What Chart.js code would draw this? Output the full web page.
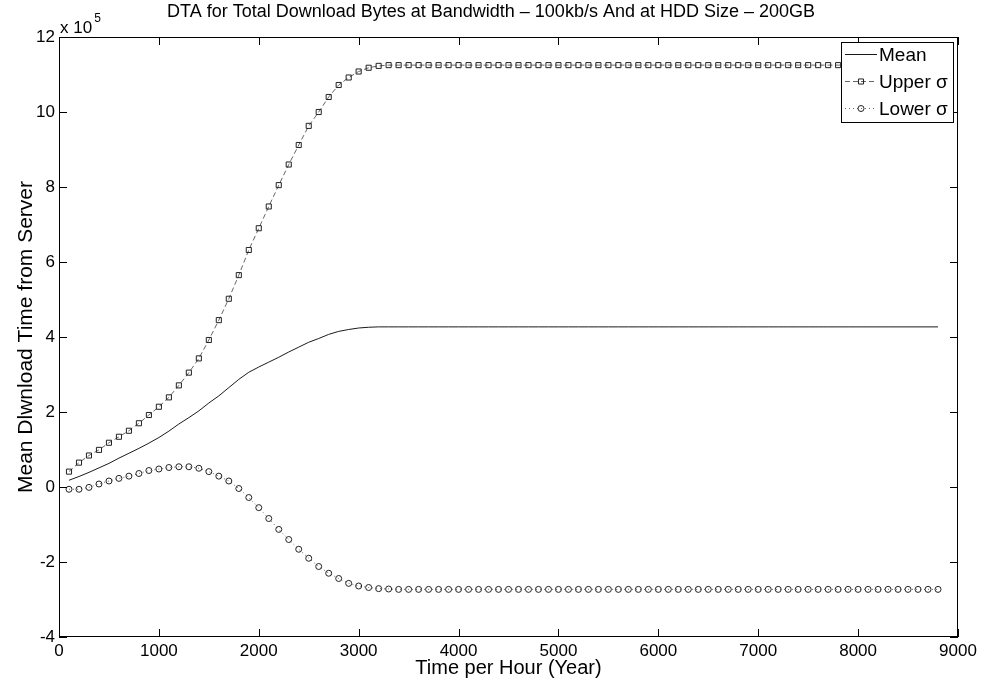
<!DOCTYPE html>
<html>
<head>
<meta charset="utf-8">
<script src="https://cdn.jsdelivr.net/npm/chart.js@4"></script>
<style>
html,body{margin:0;padding:0;background:#fff;}
#wrap{width:986px;height:686px;}
</style>
</head>
<body>
<div id="wrap"><canvas id="c" width="986" height="686"></canvas></div>
<script>
// ---------- DATA ----------
const hours = [
  100,200,300,400,500,600,700,800,900,1000,
  1100,1200,1300,1400,1500,1600,1700,1800,1900,2000,
  2100,2200,2300,2400,2500,2600,2700,2800,2900,3000,
  3100,3200,3300,3400,3500,3600,3700,3800,3900,4000,
  4100,4200,4300,4400,4500,4600,4700,4800,4900,5000,
  5100,5200,5300,5400,5500,5600,5700,5800,5900,6000,
  6100,6200,6300,6400,6500,6600,6700,6800,6900,7000,
  7100,7200,7300,7400,7500,7600,7700,7800,7900,8000,
  8100,8200,8300,8400,8500,8600,8700,8800
];
const meanVals = [
  18000,28000,39000,51000,63000,77000,90000,103000,117000,132000,
  149000,168000,185000,203000,224000,243000,265000,287000,306000,320000,
  333000,346000,360000,373000,386000,396000,407000,415000,420000,424000,
  426000,
  427000,427000,427000,427000,427000,427000,427000,427000,
  427000,427000,427000,427000,427000,427000,427000,427000,
  427000,427000,427000,427000,427000,427000,427000,427000,
  427000,427000,427000,427000,427000,427000,427000,427000,
  427000,427000,427000,427000,427000,427000,427000,427000,
  427000,427000,427000,427000,427000,427000,427000,427000,
  427000,427000,427000,427000,427000,427000,427000,427000,
  427000
];
const upperVals = [
  41000,65000,84000,99000,118000,134000,150000,170000,192000,214000,
  239000,271000,305000,343000,392000,445000,502000,565000,632000,690000,
  748000,805000,860000,912000,963000,1000000,1040000,1072000,1092000,1108000,
  1118000,1123000,
  1125000,1125000,1125000,1125000,1125000,1125000,1125000,1125000,
  1125000,1125000,1125000,1125000,1125000,1125000,1125000,1125000,
  1125000,1125000,1125000,1125000,1125000,1125000,1125000,1125000,
  1125000,1125000,1125000,1125000,1125000,1125000,1125000,1125000,
  1125000,1125000,1125000,1125000,1125000,1125000,1125000,1125000,
  1125000,1125000,1125000,1125000,1125000,1125000,1125000,1125000,
  1125000,1125000,1125000,1125000,1125000,1125000,1125000,1125000
];
const lowerVals = [
  -6000,-6000,-1000,8000,16000,23000,29000,36000,44000,48000,
  52000,54000,54000,50000,41000,29000,16000,-4000,-28000,-55000,
  -84000,-113000,-140000,-166000,-190000,-212000,-230000,-244000,-257000,-264000,
  -268000,-271000,-272000,
  -273000,-273000,-273000,-273000,-273000,-273000,-273000,-273000,
  -273000,-273000,-273000,-273000,-273000,-273000,-273000,-273000,
  -273000,-273000,-273000,-273000,-273000,-273000,-273000,-273000,
  -273000,-273000,-273000,-273000,-273000,-273000,-273000,-273000,
  -273000,-273000,-273000,-273000,-273000,-273000,-273000,-273000,
  -273000,-273000,-273000,-273000,-273000,-273000,-273000,-273000,
  -273000,-273000,-273000,-273000,-273000,-273000,-273000
];
const xTicks = [0,1000,2000,3000,4000,5000,6000,7000,8000,9000];
const yTicks = [-400000,-200000,0,200000,400000,600000,800000,1000000,1200000];
const yExponent = 5;
const seriesNames = ['Mean','Upper \u03c3','Lower \u03c3'];
const titleText = 'DTA for Total Download Bytes at Bandwidth \u2013 100kb/s And at HDD Size \u2013 200GB';
const xLabel = 'Time per Hour (Year)';
const yLabel = 'Mean Dlwnload Time from Server';

// ---------- CHART ----------
const FONT = '"Liberation Sans", Arial, Helvetica, sans-serif';
const toXY = vals => hours.map((h,i)=>({x:h, y:vals[i]}));

const framePlugin = {
  id: 'matlabFrame',
  afterDatasetsDraw(chart){
    const {ctx, chartArea:a, scales} = chart;
    const x = scales.x, y = scales.y;
    ctx.save();
    ctx.strokeStyle = '#000';
    ctx.lineWidth = 1;
    ctx.setLineDash([]);
    // box
    ctx.strokeRect(Math.round(a.left)+0.5, Math.round(a.top)+0.5,
                   Math.round(a.right-a.left)-1, Math.round(a.bottom-a.top)-1);
    const tl = 8;
    ctx.beginPath();
    x.ticks.forEach(t=>{
      const px = Math.round(x.getPixelForValue(t.value))+0.5;
      ctx.moveTo(px, a.bottom); ctx.lineTo(px, a.bottom - tl);
      ctx.moveTo(px, a.top); ctx.lineTo(px, a.top + tl);
    });
    y.ticks.forEach(t=>{
      const py = Math.round(y.getPixelForValue(t.value))+0.5;
      ctx.moveTo(a.left, py); ctx.lineTo(a.left + tl, py);
      ctx.moveTo(a.right, py); ctx.lineTo(a.right - tl, py);
    });
    ctx.stroke();

    // exponent label
    ctx.fillStyle = '#000';
    ctx.textBaseline = 'alphabetic';
    ctx.textAlign = 'left';
    ctx.font = '17px ' + FONT;
    const base = 'x 10';
    ctx.fillText(base, a.left + 1, a.top - 4);
    const w = ctx.measureText(base).width;
    ctx.font = '12px ' + FONT;
    ctx.fillText(String(yExponent), a.left + 3 + w, a.top - 15);

    // legend
    const lw = 112, lh = 80;
    const lx = a.right - 5 - lw, ly = a.top + 5;
    ctx.fillStyle = '#fff';
    ctx.fillRect(lx, ly, lw, lh);
    ctx.strokeStyle = '#000';
    ctx.strokeRect(Math.round(lx)+0.5, Math.round(ly)+0.5, lw, lh);
    chart.data.datasets.forEach((ds, i)=>{
      const cy = Math.round(ly + 12 + i*27) + 0.5;
      const x0 = lx + 4, x1 = lx + 36, xm = (x0+x1)/2;
      ctx.strokeStyle = ds.borderColor;
      ctx.lineWidth = 1;
      ctx.setLineDash(ds.borderDash || []);
      ctx.beginPath(); ctx.moveTo(x0, cy); ctx.lineTo(x1, cy); ctx.stroke();
      ctx.setLineDash([]);
      if (ds.pointRadius > 0) {
        ctx.strokeStyle = ds.pointBorderColor;
        ctx.beginPath();
        if (ds.pointStyle === 'rect') {
          const s = ds.pointRadius * Math.SQRT1_2;
          ctx.rect(xm - s, cy - s, 2*s, 2*s);
        } else {
          ctx.arc(xm, cy, ds.pointRadius, 0, Math.PI*2);
        }
        ctx.stroke();
      }
      ctx.fillStyle = '#000';
      ctx.font = '19px ' + FONT;
      ctx.textBaseline = 'middle';
      ctx.textAlign = 'left';
      ctx.fillText(ds.label, lx + 38, cy + 1);
    });
    ctx.restore();
  }
};

new Chart(document.getElementById('c'), {
  type: 'line',
  data: {
    datasets: [
      {
        label: seriesNames[0],
        data: toXY(meanVals),
        borderColor: '#1a1a1a',
        borderWidth: 1,
        pointRadius: 0,
        fill: false,
        tension: 0
      },
      {
        label: seriesNames[1],
        data: toXY(upperVals),
        borderColor: '#666',
        borderWidth: 1,
        borderDash: [5,3],
        pointStyle: 'rect',
        pointRadius: 3.6,
        pointBorderWidth: 1,
        pointBorderColor: '#222',
        pointBackgroundColor: 'rgba(255,255,255,0)',
        fill: false,
        tension: 0
      },
      {
        label: seriesNames[2],
        data: toXY(lowerVals),
        borderColor: '#666',
        borderWidth: 1,
        borderDash: [1,3],
        pointStyle: 'circle',
        pointRadius: 3,
        pointBorderWidth: 1,
        pointBorderColor: '#222',
        pointBackgroundColor: 'rgba(255,255,255,0)',
        fill: false,
        tension: 0
      }
    ]
  },
  options: {
    responsive: false,
    animation: false,
    events: [],
    layout: { padding: { left: 12, right: 16, top: 0, bottom: 0 }, autoPadding: false },
    plugins: {
      legend: { display: false },
      tooltip: { enabled: false },
      title: {
        display: true,
        text: titleText,
        color: '#000',
        font: { family: FONT, size: 18, weight: 'normal', lineHeight: '22px' },
        padding: { top: 1, bottom: 14 }
      }
    },
    scales: {
      x: {
        type: 'linear',
        position: 'bottom',
        min: 0, max: 9000,
        afterBuildTicks: s => { s.ticks = xTicks.map(v=>({value:v})); },
        afterFit: s => { s.height = 49; },
        grid: { display: false, drawTicks: false, tickLength: 0 },
        border: { display: false },
        ticks: {
          color: '#000', padding: 4, maxRotation: 0, autoSkip: false,
          font: { family: FONT, size: 17, lineHeight: '20px' },
          callback: v => String(v)
        },
        title: {
          display: true, text: xLabel, color: '#000',
          font: { family: FONT, size: 20, lineHeight: '24px' },
          padding: { top: 6, bottom: 6 }
        }
      },
      y: {
        type: 'linear',
        position: 'left',
        min: -400000, max: 1200000,
        afterBuildTicks: s => { s.ticks = yTicks.map(v=>({value:v})); },
        afterFit: s => { s.width = 47; },
        grid: { display: false, drawTicks: false, tickLength: 0 },
        border: { display: false },
        ticks: {
          color: '#000', padding: 4, autoSkip: false,
          font: { family: FONT, size: 17, lineHeight: '20px' },
          callback: v => String(Math.round(v / Math.pow(10, yExponent)))
        },
        title: {
          display: true, text: yLabel, color: '#000',
          font: { family: FONT, size: 21, lineHeight: '26px' },
          padding: { top: 1, bottom: 1 }
        }
      },
      yRight: {
        type: 'linear',
        position: 'right',
        min: -400000, max: 1200000,
        afterFit: s => { s.width = 12; },
        grid: { display: false, drawTicks: false, tickLength: 0 },
        border: { display: false },
        ticks: { display: false }
      }
    }
  },
  plugins: [framePlugin]
});
</script>
</body>
</html>
